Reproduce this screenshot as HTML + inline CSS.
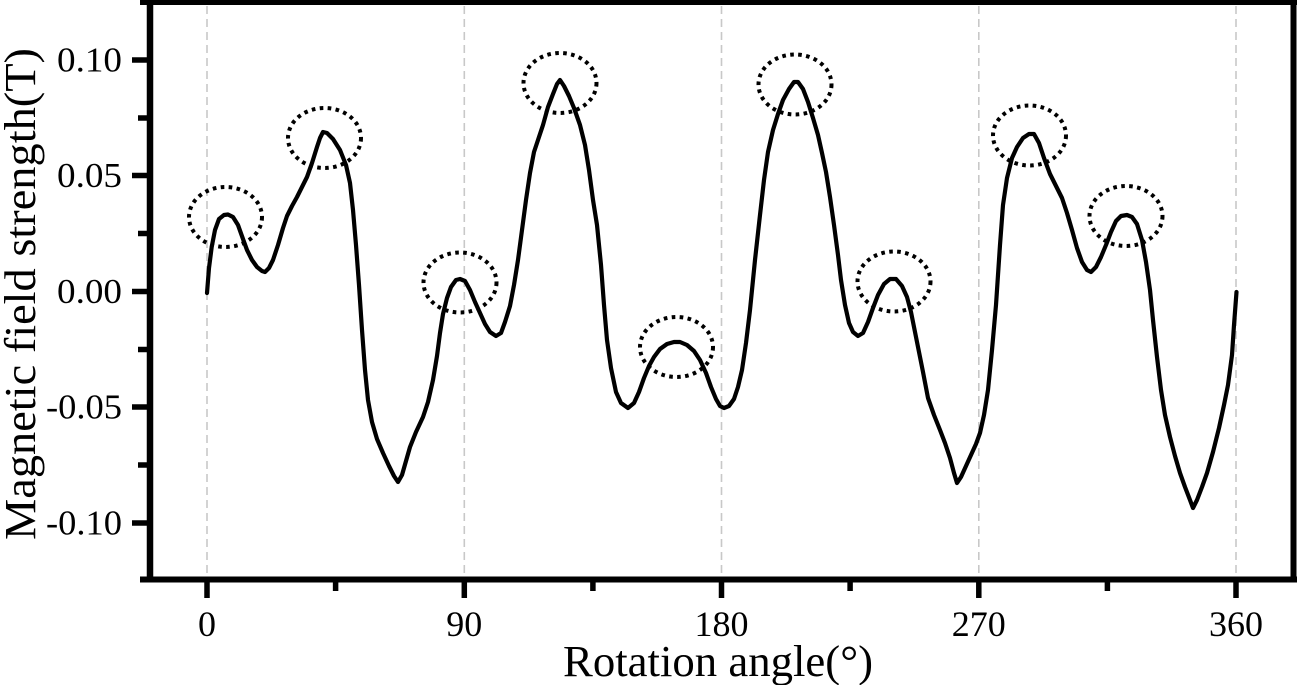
<!DOCTYPE html>
<html>
<head>
<meta charset="utf-8">
<style>
  html, body { margin: 0; padding: 0; background: #ffffff; }
  svg { display: block; }
  text { font-family: "Liberation Serif", "Times New Roman", serif; fill: #000; }
</style>
</head>
<body>
<svg width="1299" height="685" viewBox="0 0 1299 685" xmlns="http://www.w3.org/2000/svg">
  <rect x="0" y="0" width="1299" height="685" fill="#ffffff"/>

  <!-- grid lines -->
  <g stroke="#c8c8c8" stroke-width="1.6" stroke-dasharray="8 5" fill="none">
    <line x1="207" y1="6" x2="207" y2="576"/>
    <line x1="464.3" y1="6" x2="464.3" y2="576"/>
    <line x1="721.5" y1="6" x2="721.5" y2="576"/>
    <line x1="978.8" y1="6" x2="978.8" y2="576"/>
    <line x1="1236" y1="6" x2="1236" y2="576"/>
  </g>

  <!-- frame -->
  <g stroke="#000" fill="none">
    <line x1="140" y1="2.5" x2="1297" y2="2.5" stroke-width="5"/>
    <line x1="140" y1="579.5" x2="1297" y2="579.5" stroke-width="6"/>
    <line x1="150" y1="0" x2="150" y2="582" stroke-width="6.5"/>
    <line x1="1293.5" y1="0" x2="1293.5" y2="582" stroke-width="6"/>
  </g>

  <!-- y ticks -->
  <g stroke="#000" stroke-width="5.5">
    <line x1="132" y1="60" x2="150" y2="60"/>
    <line x1="132" y1="175.5" x2="150" y2="175.5"/>
    <line x1="132" y1="291.5" x2="150" y2="291.5"/>
    <line x1="132" y1="407" x2="150" y2="407"/>
    <line x1="132" y1="523" x2="150" y2="523"/>
    <line x1="138" y1="118" x2="150" y2="118"/>
    <line x1="138" y1="233.5" x2="150" y2="233.5"/>
    <line x1="138" y1="349.5" x2="150" y2="349.5"/>
    <line x1="138" y1="465" x2="150" y2="465"/>
  </g>

  <!-- x ticks -->
  <g stroke="#000" stroke-width="5.5">
    <line x1="207" y1="579" x2="207" y2="598"/>
    <line x1="464.3" y1="579" x2="464.3" y2="598"/>
    <line x1="721.5" y1="579" x2="721.5" y2="598"/>
    <line x1="978.8" y1="579" x2="978.8" y2="598"/>
    <line x1="1236" y1="579" x2="1236" y2="598"/>
    <line x1="335.6" y1="579" x2="335.6" y2="591"/>
    <line x1="592.9" y1="579" x2="592.9" y2="591"/>
    <line x1="850.1" y1="579" x2="850.1" y2="591"/>
    <line x1="1107.4" y1="579" x2="1107.4" y2="591"/>
  </g>

  <!-- y tick labels -->
  <g font-size="35" text-anchor="end">
    <text x="122" y="71.5" textLength="65" lengthAdjust="spacingAndGlyphs">0.10</text>
    <text x="122" y="187" textLength="65" lengthAdjust="spacingAndGlyphs">0.05</text>
    <text x="122" y="303" textLength="65" lengthAdjust="spacingAndGlyphs">0.00</text>
    <text x="122" y="418.5" textLength="76" lengthAdjust="spacingAndGlyphs">-0.05</text>
    <text x="122" y="534.5" textLength="76" lengthAdjust="spacingAndGlyphs">-0.10</text>
  </g>

  <!-- x tick labels -->
  <g font-size="36" text-anchor="middle">
    <text x="207" y="636">0</text>
    <text x="464.3" y="636">90</text>
    <text x="721.5" y="636">180</text>
    <text x="978.8" y="636">270</text>
    <text x="1236" y="636">360</text>
  </g>

  <!-- axis titles -->
  <text x="718" y="676" font-size="44" text-anchor="middle" textLength="310" lengthAdjust="spacingAndGlyphs">Rotation angle(°)</text>
  <text transform="translate(35,294) rotate(-90)" x="0" y="0" font-size="44" text-anchor="middle" textLength="492" lengthAdjust="spacingAndGlyphs">Magnetic field strength(T)</text>

  <!-- curve -->
  <polyline fill="none" stroke="#000" stroke-width="4.2" stroke-linejoin="round" stroke-linecap="round" points="
207,293 209,268 211.7,247 215,230 219,219 224,215 228,214.5 233,217 238,225 243,239 247,250 252,260 257,267 262,271 265,272 269,268 273,260 278,245 283,228 287,216 292,206 297,197 302,187 307,177 312,163 317,147 320,138 323,132 327,133 333,139 340,150 346,165 350,183 353,210 356,245 359,285 362,330 365,370 368,400 372,422 377,439 383,453 389,466 394,476 398,482 402,475 406,461 410,447 416,432 423,417 428,402 433,380 437,356 440,333 443,314 447,298 451,287 456,280 460,279 465,281 470,290 475,302 480,313 485,324 490,332 496,336 501,333 505,322 510,306 514,285 518,260 522,230 526,200 530,173 534,152 538,140 543,125 548,107 553,94 557,84 560,80 564,86 569,96 574,108 580,125 585,145 589,170 593,200 597,225 601,265 604,305 607,340 611,368 616,392 621,403 628,408 634,403 639,392 644,378 649,366 654,357 660,349 667,344 674,342 680,342 687,345 694,351 700,360 706,373 711,387 716,399 720,406 724,408 729,406 734,399 738,387 742,370 746,343 750,310 755,260 760,215 764,180 768,152 773,130 778,114 783,100 789,89 794,82 798,82 803,89 808,102 813,118 818,135 822,153 826,172 830,197 834,225 838,255 841,280 845,305 849,323 853,332 858,336 863,333 868,322 873,308 878,295 884,284 890,279 896,279 902,286 907,297 911,312 915,332 919,352 923,372 928,398 934,415 940,430 945,443 950,458 954,473 957,483 961,477 966,466 971,455 976,444 980,433 984,415 988,390 992,350 996,305 1000,245 1003,205 1007,178 1012,158 1017,147 1023,138 1029,134 1034,134 1039,143 1044,158 1050,174 1056,186 1062,198 1067,213 1072,230 1077,248 1082,262 1087,270 1091,272 1096,267 1101,257 1106,245 1111,232 1116,221 1121,216 1127,215 1132,217 1137,224 1142,240 1146,262 1150,290 1153,320 1157,357 1161,390 1165,415 1170,437 1175,456 1180,473 1185,487 1190,500 1193,508 1197,500 1202,487 1207,473 1213,452 1219,428 1224,405 1228,385 1232,355 1234,325 1236.5,292"/>

  <!-- dotted ellipses -->
  <g fill="none" stroke="#000" stroke-width="4" stroke-dasharray="3.6 4.4">
    <ellipse cx="225.5" cy="217" rx="36.5" ry="30"/>
    <ellipse cx="324.5" cy="138" rx="36.5" ry="30"/>
    <ellipse cx="460" cy="282.5" rx="36.5" ry="30"/>
    <ellipse cx="560" cy="83" rx="36.5" ry="30"/>
    <ellipse cx="676.5" cy="347" rx="36.5" ry="30"/>
    <ellipse cx="795" cy="84.5" rx="36.5" ry="30"/>
    <ellipse cx="894" cy="281.5" rx="36.5" ry="30"/>
    <ellipse cx="1029.5" cy="135.5" rx="36.5" ry="30"/>
    <ellipse cx="1126" cy="216" rx="36.5" ry="30"/>
  </g>
</svg>
</body>
</html>
